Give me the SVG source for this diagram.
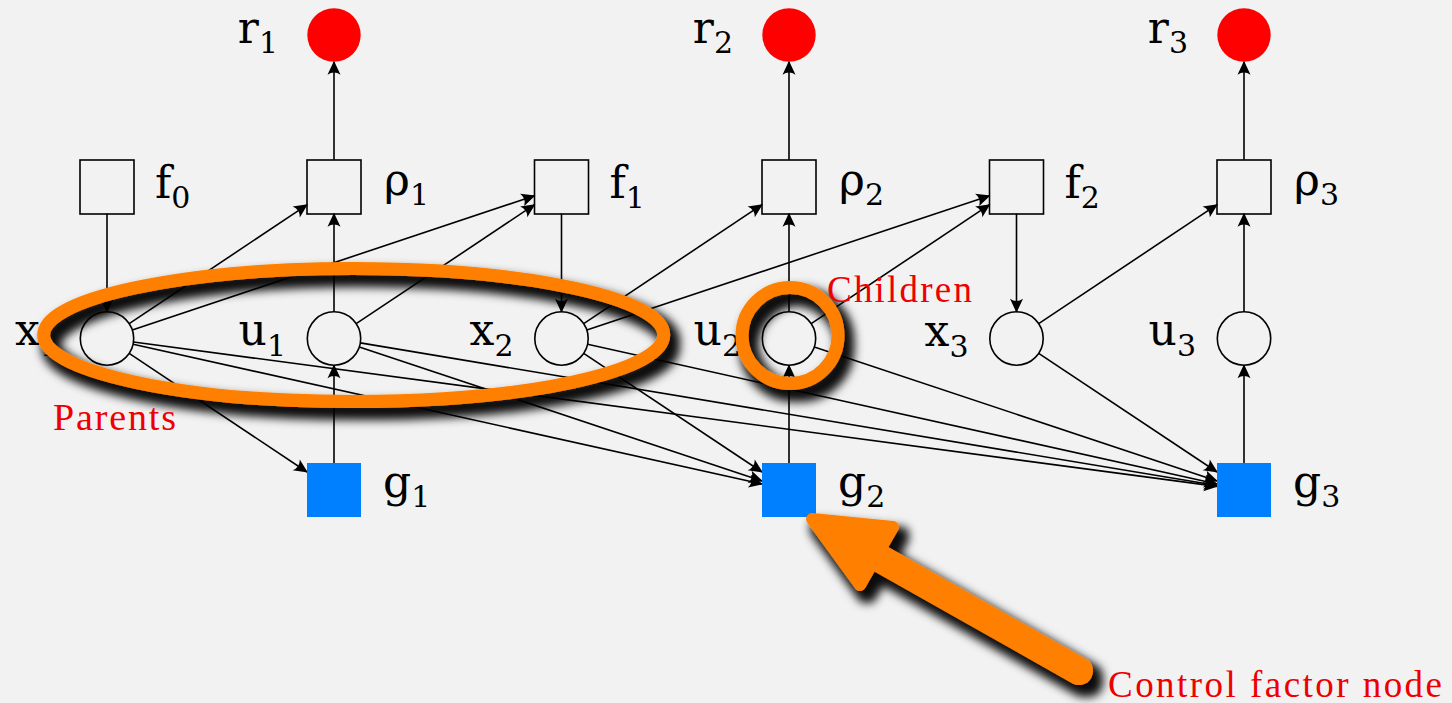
<svg xmlns="http://www.w3.org/2000/svg" width="1452" height="703" viewBox="0 0 1452 703">
  <style>
    .lbl { font-family: "DejaVu Serif", "Liberation Serif", serif; font-size: 44px; fill: #000; }
    .sub { font-size: 30px; }
    .factor { fill: none; stroke: #000; stroke-width: 1.6; }
    .var { fill: none; stroke: #000; stroke-width: 1.6; }
    .reward { fill: #ff0000; }
    .control { fill: #0080ff; }
    .edge { fill: none; stroke: #000; stroke-width: 1.6; marker-end: url(#ah); }
    .hl { fill: none; stroke: #ff8000; stroke-width: 13; }
    .note { font-family: "Liberation Serif", "DejaVu Serif", serif; fill: #ee0000; }
  </style>
  <defs>
    <marker id="ah" viewBox="-15 -8 17 16" refX="0" refY="0" markerWidth="17" markerHeight="16" orient="auto" markerUnits="userSpaceOnUse">
      <path d="M1,0 L-13,-6.5 Q-8.5,0 -13,6.5 Z" fill="#000"/>
    </marker>
    <!-- soft drop shadow for the orange highlight marks -->
    <filter id="shadow" filterUnits="userSpaceOnUse" x="0" y="0" width="1452" height="703">
      <feMorphology in="SourceAlpha" operator="dilate" radius="2.5"/>
      <feGaussianBlur stdDeviation="5"/>
      <feOffset dx="7" dy="9" result="blur"/>
      <feFlood flood-color="#000" flood-opacity="0.95"/>
      <feComposite in2="blur" operator="in"/>
      <feMerge>
        <feMergeNode/>
        <feMergeNode in="SourceGraphic"/>
      </feMerge>
    </filter>
  </defs>

  <rect width="1452" height="703" fill="#f2f2f2"/>

  <!-- connectors -->
  <g id="connectors">
    <path class="edge" d="M334,159.7 V61.7"/>
    <path class="edge" d="M789,159.7 V61.7"/>
    <path class="edge" d="M1244,159.7 V61.7"/>
    <path class="edge" d="M107,213.7 V311.8"/>
    <path class="edge" d="M561.5,213.7 V311.8"/>
    <path class="edge" d="M1016.5,213.7 V311.8"/>
    <path class="edge" d="M334,311.8 V213.7"/>
    <path class="edge" d="M789,311.8 V213.7"/>
    <path class="edge" d="M1244,311.8 V213.7"/>
    <path class="edge" d="M334,463 V365.2"/>
    <path class="edge" d="M789,463 V365.2"/>
    <path class="edge" d="M1244,463 V365.2"/>
    <path class="edge" d="M129.2,323.7 L307,204.8"/>
    <path class="edge" d="M132.3,330 L534.5,195.7"/>
    <path class="edge" d="M356.2,323.7 L534.5,204.7"/>
    <path class="edge" d="M583.7,323.7 L762,204.7"/>
    <path class="edge" d="M586.8,330 L989.5,195.7"/>
    <path class="edge" d="M811.2,323.7 L989.5,204.7"/>
    <path class="edge" d="M1038.7,323.7 L1217,204.7"/>
    <path class="edge" d="M129.2,353.3 L307,472"/>
    <path class="edge" d="M133.1,344.3 L762,484"/>
    <path class="edge" d="M133.5,342 L1217,486.4"/>
    <path class="edge" d="M359.3,346.9 L762,481"/>
    <path class="edge" d="M360.3,342.9 L1217,485.5"/>
    <path class="edge" d="M583.7,353.3 L762,472"/>
    <path class="edge" d="M587.6,344.3 L1217,484"/>
    <path class="edge" d="M814.3,346.9 L1217,481"/>
    <path class="edge" d="M1038.7,353.3 L1217,472"/>
  </g>

  <!-- reward nodes -->
  <g id="r1"><circle class="reward" cx="334" cy="35" r="26.7"/><text class="lbl" x="278" y="43" text-anchor="end">r<tspan class="sub" dy="10">1</tspan></text></g>
  <g id="r2"><circle class="reward" cx="789" cy="35" r="26.7"/><text class="lbl" x="733" y="43" text-anchor="end">r<tspan class="sub" dy="10">2</tspan></text></g>
  <g id="r3"><circle class="reward" cx="1244" cy="35" r="26.7"/><text class="lbl" x="1188" y="43" text-anchor="end">r<tspan class="sub" dy="10">3</tspan></text></g>

  <!-- factor nodes -->
  <g id="f0"><rect class="factor" x="80" y="160" width="54" height="54"/><text class="lbl" x="155" y="198">f<tspan class="sub" dy="10">0</tspan></text></g>
  <g id="rho1"><rect class="factor" x="307" y="160" width="54" height="54"/><text class="lbl" x="384" y="195">ρ<tspan class="sub" dy="10">1</tspan></text></g>
  <g id="f1"><rect class="factor" x="534.5" y="160" width="54" height="54"/><text class="lbl" x="609.5" y="198">f<tspan class="sub" dy="10">1</tspan></text></g>
  <g id="rho2"><rect class="factor" x="762" y="160" width="54" height="54"/><text class="lbl" x="839" y="195">ρ<tspan class="sub" dy="10">2</tspan></text></g>
  <g id="f2"><rect class="factor" x="989.5" y="160" width="54" height="54"/><text class="lbl" x="1064.5" y="198">f<tspan class="sub" dy="10">2</tspan></text></g>
  <g id="rho3"><rect class="factor" x="1217" y="160" width="54" height="54"/><text class="lbl" x="1294" y="195">ρ<tspan class="sub" dy="10">3</tspan></text></g>

  <!-- state and action variables -->
  <g id="x1"><circle class="var" cx="107" cy="338.5" r="26.7"/><text class="lbl" x="59" y="345" text-anchor="end">x<tspan class="sub" dy="11">1</tspan></text></g>
  <g id="u1"><circle class="var" cx="334" cy="338.5" r="26.7"/><text class="lbl" x="286" y="345" text-anchor="end">u<tspan class="sub" dy="11">1</tspan></text></g>
  <g id="x2"><circle class="var" cx="561.5" cy="338.5" r="26.7"/><text class="lbl" x="513.5" y="345" text-anchor="end">x<tspan class="sub" dy="11">2</tspan></text></g>
  <g id="u2"><circle class="var" cx="789" cy="338.5" r="26.7"/><text class="lbl" x="741" y="345" text-anchor="end">u<tspan class="sub" dy="11">2</tspan></text></g>
  <g id="x3"><circle class="var" cx="1016.5" cy="338.5" r="26.7"/><text class="lbl" x="968.5" y="346" text-anchor="end">x<tspan class="sub" dy="11">3</tspan></text></g>
  <g id="u3"><circle class="var" cx="1244" cy="338.5" r="26.7"/><text class="lbl" x="1196" y="345" text-anchor="end">u<tspan class="sub" dy="11">3</tspan></text></g>

  <!-- control factor nodes -->
  <g id="g1"><rect class="control" x="307" y="463" width="54" height="54"/><text class="lbl" x="383" y="497">g<tspan class="sub" dy="10">1</tspan></text></g>
  <g id="g2"><rect class="control" x="762" y="463" width="54" height="54"/><text class="lbl" x="838" y="497">g<tspan class="sub" dy="10">2</tspan></text></g>
  <g id="g3"><rect class="control" x="1217" y="463" width="54" height="54"/><text class="lbl" x="1293" y="497">g<tspan class="sub" dy="10">3</tspan></text></g>

  <!-- highlights -->
  <g id="parents-mark" filter="url(#shadow)">
    <ellipse class="hl" cx="353.7" cy="335" rx="310" ry="66.5"/>
  </g>
  <g id="children-mark" filter="url(#shadow)">
    <circle class="hl" cx="790" cy="335.5" r="48"/>
  </g>
  <g id="pointer" filter="url(#shadow)">
    <line x1="1079" y1="671" x2="872" y2="554" stroke="#ff8000" stroke-width="28" stroke-linecap="round"/>
    <path d="M812,519 L893,527 L860,585 Z" fill="#ff8000" stroke="#ff8000" stroke-width="12" stroke-linejoin="round"/>
  </g>

  <!-- annotations -->
  <text class="note" x="53" y="430" font-size="38" textLength="123" lengthAdjust="spacing">Parents</text>
  <text class="note" x="827" y="302" font-size="37" textLength="145" lengthAdjust="spacing">Children</text>
  <text class="note" x="1108" y="697" font-size="37" textLength="334" lengthAdjust="spacing">Control factor node</text>
</svg>
